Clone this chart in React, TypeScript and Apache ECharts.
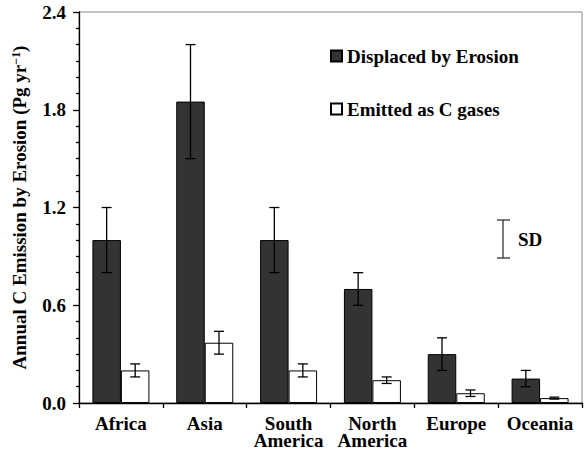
import React, { useEffect, useRef } from "react";
import * as echarts from "echarts";

const categories = ["Africa", "Asia", "South\nAmerica", "North\nAmerica", "Europe", "Oceania"];
const displaced = [1.0, 1.85, 1.0, 0.7, 0.3, 0.15];
const displacedSD = [0.2, 0.35, 0.2, 0.1, 0.1, 0.05];
const emitted = [0.2, 0.37, 0.2, 0.14, 0.06, 0.03];
const emittedSD = [0.04, 0.07, 0.04, 0.02, 0.02, 0.006];
const seriesNames = ["Displaced by Erosion", "Emitted as C gases"];

const FONT = "'Liberation Serif', 'Times New Roman', serif";
const CAT_GAP = 0.32;

function errorRenderer(side: number) {
  return (params: any, api: any) => {
    const i = api.value(0);
    const v = api.value(1);
    const sd = api.value(2);
    const c = api.coord([i, v]);
    const hi = api.coord([i, v + sd]);
    const lo = api.coord([i, v - sd]);
    const band = api.size([1, 0])[0];
    const bw = (band * (1 - CAT_GAP)) / 2;
    const x = c[0] + (side * bw) / 2;
    const hw = 5;
    const style = { stroke: "#000", lineWidth: 1.3 };
    return {
      type: "group",
      children: [
        { type: "line", shape: { x1: x, y1: hi[1], x2: x, y2: lo[1] }, style },
        { type: "line", shape: { x1: x - hw, y1: hi[1], x2: x + hw, y2: hi[1] }, style },
        { type: "line", shape: { x1: x - hw, y1: lo[1], x2: x + hw, y2: lo[1] }, style },
      ],
    };
  };
}

export default function App() {
  const ref = useRef<HTMLDivElement>(null);
  useEffect(() => {
    if (!ref.current) return;
    const chart = echarts.init(ref.current, null, { renderer: "svg" });
    chart.setOption({
      animation: false,
      backgroundColor: "#fff",
      grid: {
        left: 79,
        right: 2,
        top: 12,
        bottom: 54,
        show: true,
        borderColor: "#888",
        borderWidth: 1,
      },
      legend: {
        data: seriesNames,
        orient: "vertical",
        left: 330,
        top: 46,
        padding: 0,
        icon: "rect",
        itemWidth: 11,
        itemHeight: 11,
        itemGap: 33,
        textStyle: { fontFamily: FONT, fontWeight: "bold", fontSize: 19, color: "#000", lineHeight: 20 },
      },
      xAxis: {
        type: "category",
        data: categories,
        axisLine: { lineStyle: { color: "#000", width: 1.3 } },
        axisTick: { show: true, length: 5, lineStyle: { color: "#000", width: 1.3 } },
        axisLabel: {
          fontFamily: FONT,
          fontWeight: "bold",
          fontSize: 19,
          color: "#000",
          margin: 12,
          lineHeight: 17,
          interval: 0,
        },
      },
      yAxis: {
        type: "value",
        min: 0,
        max: 2.4,
        interval: 0.6,
        name: "Annual C Emission by Erosion (Pg yr{sup|−1})",
        nameLocation: "middle",
        nameRotate: 90,
        nameGap: 50,
        nameTextStyle: {
          fontFamily: FONT,
          fontWeight: "bold",
          fontSize: 19,
          color: "#000",
          rich: {
            sup: { fontFamily: FONT, fontWeight: "bold", fontSize: 12, color: "#000", verticalAlign: "top" },
          },
        },
        axisLine: { show: true, lineStyle: { color: "#000", width: 1.3 } },
        axisTick: { show: true, length: 6, lineStyle: { color: "#000", width: 1.3 } },
        minorTick: { show: true, splitNumber: 6, length: 3, lineStyle: { color: "#000", width: 1.3 } },
        splitLine: { show: false },
        axisLabel: {
          fontFamily: FONT,
          fontWeight: "bold",
          fontSize: 19,
          color: "#000",
          margin: 13,
          formatter: (v: number) => v.toFixed(1),
        },
      },
      series: [
        {
          name: seriesNames[0],
          type: "bar",
          data: displaced,
          barGap: "0%",
          barCategoryGap: "32%",
          itemStyle: { color: "#333333", borderColor: "#000", borderWidth: 1 },
        },
        {
          name: seriesNames[1],
          type: "bar",
          data: emitted,
          barGap: "0%",
          barCategoryGap: "32%",
          itemStyle: { color: "#ffffff", borderColor: "#000", borderWidth: 1 },
        },
        {
          type: "custom",
          name: "sd1",
          renderItem: errorRenderer(-1),
          data: categories.map((_, i) => [i, displaced[i], displacedSD[i]]),
          encode: { x: 0, y: 1 },
          z: 10,
        },
        {
          type: "custom",
          name: "sd2",
          renderItem: errorRenderer(1),
          data: categories.map((_, i) => [i, emitted[i], emittedSD[i]]),
          encode: { x: 0, y: 1 },
          z: 10,
        },
      ],
      graphic: [
        { type: "line", shape: { x1: 503, y1: 220, x2: 503, y2: 258 }, style: { stroke: "#333", lineWidth: 1.3 } },
        { type: "line", shape: { x1: 497, y1: 220, x2: 510, y2: 220 }, style: { stroke: "#333", lineWidth: 1.3 } },
        { type: "line", shape: { x1: 497, y1: 258, x2: 510, y2: 258 }, style: { stroke: "#333", lineWidth: 1.3 } },
        {
          type: "text",
          x: 518,
          y: 239,
          style: {
            text: "SD",
            fontFamily: FONT,
            fontWeight: "bold",
            fontSize: 19,
            fill: "#000",
            verticalAlign: "middle",
          },
        },
      ],
    });
    return () => chart.dispose();
  }, []);
  return <div ref={ref} style={{ position: "absolute", left: 0, top: 0, width: 584, height: 457 }} />;
}
